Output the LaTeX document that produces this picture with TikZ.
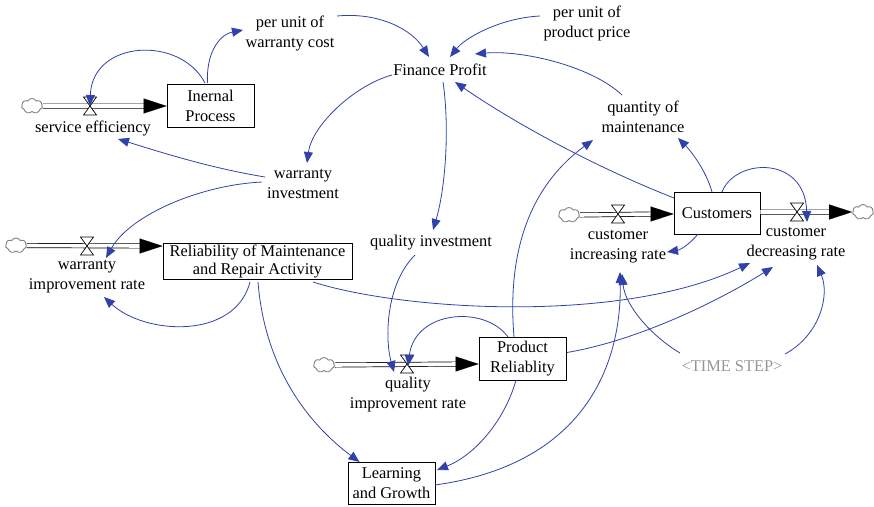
\documentclass[tikz,border=0pt]{standalone}
\usepackage{fontspec}
\setmainfont{Liberation Serif}
\usetikzlibrary{arrows.meta,shapes.symbols}
\definecolor{linkblue}{RGB}{48,66,170}
\definecolor{stepgray}{RGB}{150,150,150}
\tikzset{
  valve/.pic={
    \coordinate (-c) at (0,0);
    \draw[fill=white, line width=0.7pt, line join=miter]
      (-6.5,-9) -- (6.5,-9) -- (-6.5,9) -- (6.5,9) -- cycle;
  }
}
\begin{document}
\begin{tikzpicture}[x=1pt,y=-1pt,
  every node/.style={font=\fontsize{16.4}{20}\selectfont, align=center, inner sep=1pt},
  stock/.style={draw, line width=0.9pt, minimum height=43pt, inner sep=0pt},
  source/.style={cloud, cloud puffs=7, cloud puff arc=120, aspect=1.4, draw=gray,
    line width=0.9pt, fill=white, minimum width=21pt, minimum height=15pt, inner sep=0pt},
  pipe/.style={draw=black, line width=0.7pt, double=white, double distance=3.6pt},
  pipetip/.style={line width=0.1pt, -{Triangle[length=23pt,width=15pt]}},
  link/.style={draw=linkblue, line width=0.8pt, -{Triangle[length=11pt,width=9pt]}},
]
\useasboundingbox (0,0) rectangle (874,506);

% stocks
\node[stock, minimum width=87pt] (ip) at (210.5,105.5) {Inernal\\Process};
\node[stock, minimum width=189pt, minimum height=36pt, font=\fontsize{16.4}{17.5}\selectfont] (rmr) at (257.5,261.5) {Reliability of Maintenance\\and Repair Activity};
\node[stock, minimum width=86pt, minimum height=42pt] (cust) at (717,213) {Customers};
\node[stock, minimum width=87pt] (pr) at (522.5,358.5) {Product\\Reliablity};
\node[stock, minimum width=87pt, minimum height=42pt] (lg) at (391.5,483) {Learning\\and Growth};

% auxiliaries
\node (pucw) at (290,33) {per unit of\\warranty cost};
\node (fp) at (440,70) {Finance Profit};
\node (pupp) at (587,23) {per unit of\\product price};
\node (qom) at (643,117) {quantity of\\maintenance};
\node (wi) at (303,184) {warranty\\investment};
\node (qi) at (431,243) {quality investment};
\node[text=stepgray] (ts) at (732,366) {\textless TIME STEP\textgreater};

% rate labels
\node (lblSE) at (93,128) {service efficiency};
\node (lblW) at (87,277) {warranty\\improvement rate};
\node (lblQ) at (408,395) {quality\\improvement rate};
\node (lblC1) at (618,247) {customer\\increasing rate};
\node (lblC2) at (796,244) {customer\\decreasing rate};

% clouds
\node[source] (cSE) at (32,106) {};
\node[source] (cW) at (16,245.5) {};
\node[source] (cQ) at (324,365) {};
\node[source] (cC1) at (569,215) {};
\node[source] (cC2) at (863,212) {};

% valve positions
\coordinate (pSE) at (90,106);
\coordinate (pW) at (87,246);
\coordinate (pQ) at (407,364);
\coordinate (pC1) at (618,214);
\coordinate (pC2) at (797,212);

% flow pipes
\draw[pipe] (cSE.east) -- ([xshift=-21pt]ip.west |- pSE);
\draw[pipetip] ([xshift=-23pt]ip.west |- pSE) -- (ip.west |- pSE);
\draw[pipe] (cW.east) -- ([xshift=-21pt]rmr.west |- pW);
\draw[pipetip] ([xshift=-23pt]rmr.west |- pW) -- (rmr.west |- pW);
\draw[pipe] (cQ.east) -- ([xshift=-21pt]pr.west |- pQ);
\draw[pipetip] ([xshift=-23pt]pr.west |- pQ) -- (pr.west |- pQ);
\draw[pipe] (cC1.east) -- ([xshift=-21pt]cust.west |- pC1);
\draw[pipetip] ([xshift=-23pt]cust.west |- pC1) -- (cust.west |- pC1);
\draw[pipe] (cust.east |- pC2) -- ([xshift=-21pt]cC2.west);
\draw[pipetip] ([xshift=-23pt]cC2.west) -- (cC2.west);

% valves
\pic (vSE) at (pSE) {valve};
\pic (vW) at (pW) {valve};
\pic (vQ) at (pQ) {valve};
\pic (vC1) at (pC1) {valve};
\pic (vC2) at (pC2) {valve};

% causal links
\draw[link] ([shift={(-5.5,-22.5)}]ip.center) .. controls (180,35) and (92,40) .. (vSE-c);
\draw[link] ([shift={(-3,-22.5)}]ip.center) .. controls (206,55) and (218,35) .. ([shift={(-47,-3)}]pucw.center);
\draw[link] ([shift={(47,-17)}]pucw.center) .. controls (380,12) and (412,30) .. ([shift={(-11,-13)}]fp.center);
\draw[link] ([shift={(-47,-7)}]pupp.center) .. controls (500,18) and (465,38) .. ([shift={(10,-13)}]fp.center);
\draw[link] ([shift={(-21,-22)}]qom.center) .. controls (590,65) and (520,50) .. ([shift={(35,-16)}]fp.center);
\draw[link] ([shift={(-43,-15)}]cust.center) .. controls (590,165) and (510,120) .. ([shift={(15,12)}]fp.center);
\draw[link] ([shift={(-48,5)}]fp.center) .. controls (355,85) and (312,125) .. ([shift={(4,-21)}]wi.center);
\draw[link] ([shift={(3,12)}]fp.center) .. controls (450,130) and (445,190) .. ([shift={(2,-13)}]qi.center);
\draw[link] ([shift={(-38,-7)}]wi.center) .. controls (210,168) and (160,152) .. ([shift={(25,11)}]lblSE.center);
\draw[link] ([shift={(-41,-2)}]wi.center) .. controls (200,185) and (130,215) .. ([shift={(19,-19)}]lblW.center);
\draw[link] ([shift={(-7.5,20.5)}]rmr.center) .. controls (235,340) and (145,335) .. ([shift={(17,20)}]lblW.center);
\draw[link] ([shift={(55.5,20.5)}]rmr.center) .. controls (400,310) and (620,325) .. ([shift={(-46,19)}]lblC2.center);
\draw[link] ([shift={(0.5,20.5)}]rmr.center) .. controls (265,370) and (310,425) .. ([shift={(-32,-21)}]lg.center);
\draw[link] ([shift={(-16,12)}]qi.center) .. controls (385,285) and (385,340) .. ([shift={(-13,8)}]vQ-c);
\draw[link] ([shift={(-14.5,-21.5)}]pr.center) .. controls (485,305) and (415,310) .. ([shift={(1,2)}]vQ-c);
\draw[link] ([shift={(-8.5,-21.5)}]pr.center) .. controls (505,230) and (545,175) .. ([shift={(-50,23)}]qom.center);
\draw[link] ([shift={(44.5,-6)}]pr.center) .. controls (640,340) and (720,300) .. ([shift={(-23,23)}]lblC2.center);
\draw[link] ([shift={(-6.5,21.5)}]pr.center) .. controls (505,420) and (475,455) .. ([shift={(45.5,-13)}]lg.center);
\draw[link] ([shift={(43.5,2)}]lg.center) .. controls (580,465) and (622,370) .. ([shift={(2,25)}]lblC1.center);
\draw[link] ([shift={(-52,-13)}]ts.center) .. controls (650,335) and (625,305) .. ([shift={(4,27)}]lblC1.center);
\draw[link] ([shift={(53,-12)}]ts.center) .. controls (820,335) and (830,295) .. ([shift={(21,21)}]lblC2.center);
\draw[link] ([shift={(-19,21)}]cust.center) .. controls (690,244) and (680,250) .. ([shift={(49,5)}]lblC1.center);
\draw[link] ([shift={(-5,-21)}]cust.center) .. controls (706,170) and (690,150) .. ([shift={(35,21)}]qom.center);
\draw[link] ([shift={(5,-21)}]cust.center) .. controls (735,158) and (805,155) .. ([shift={(10,10)}]vC2-c);
\end{tikzpicture}
\end{document}
